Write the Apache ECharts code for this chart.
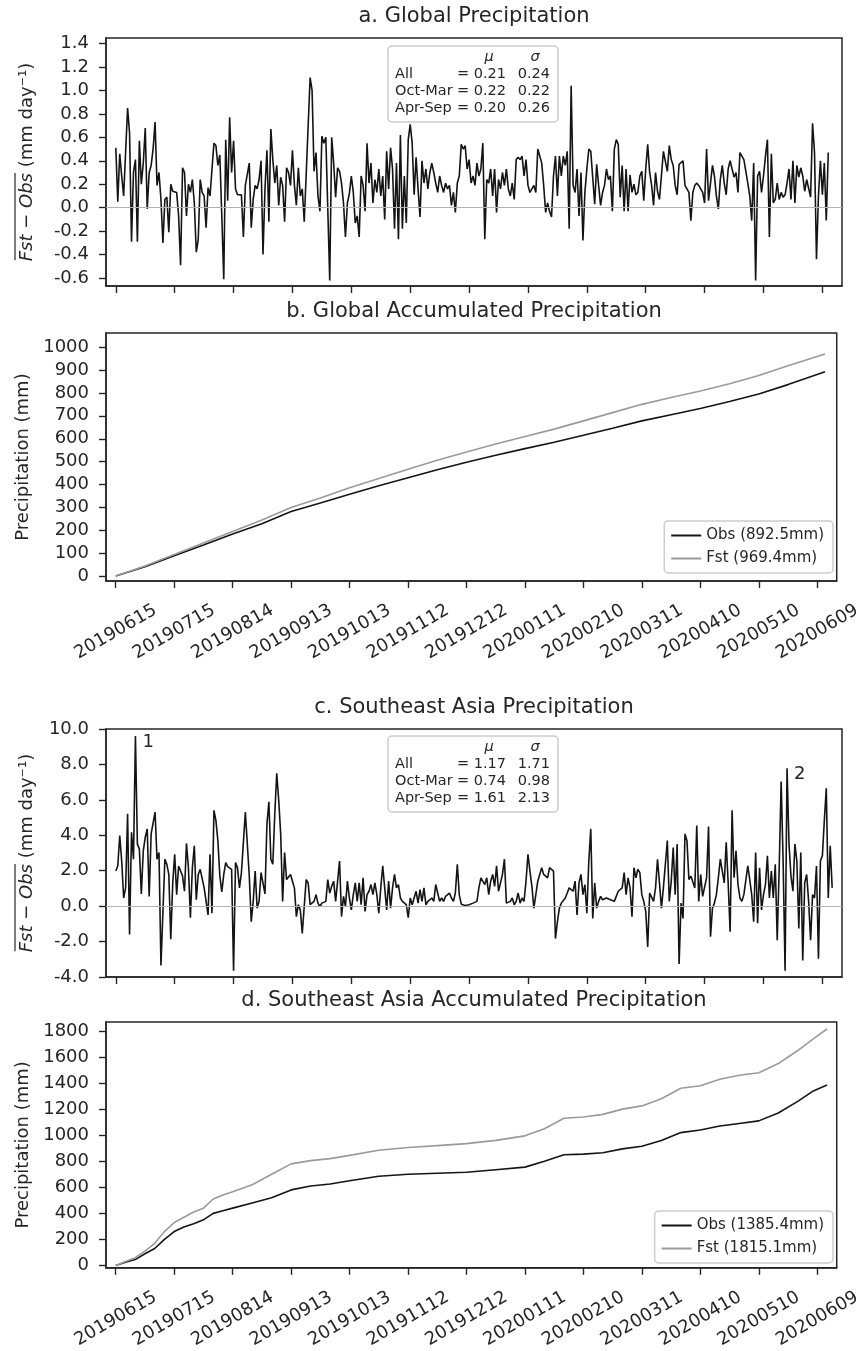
<!DOCTYPE html>
<html>
<head>
<meta charset="utf-8">
<script src="https://cdn.jsdelivr.net/npm/echarts@6.0.0/dist/echarts.min.js"></script>
<style>
  html, body { margin: 0; background: #fff; }
  #chart { width: 864px; height: 1351px; }
</style>
</head>
<body>
<div id="chart"></div>
<script>
// day offsets from 20190615 and their tick labels
const TICK_DAYS = [0, 30, 60, 90, 120, 150, 180, 210, 240, 270, 300, 330, 360];
const TICK_LABELS = ['20190615', '20190715', '20190814', '20190913', '20191013', '20191112',
  '20191212', '20200111', '20200210', '20200311', '20200410', '20200510', '20200609'];

// a. daily global mean Fst - Obs (mm/day)
const GLOBAL_DIFF = [
  0.51, 0.05, 0.46, 0.27, 0.10, 0.10, 0.85, 0.64, -0.29, 0.30,
  0.41, -0.29, 0.57, 0.20, 0.38, 0.68, -0.01, 0.30, 0.36, 0.50,
  0.73, 0.19, 0.30, 0.07, -0.30, 0.07, 0.09, -0.21, 0.20, 0.14,
  0.13, 0.13, -0.07, -0.49, 0.34, 0.30, -0.07, 0.20, 0.13, 0.24,
  0.04, -0.38, -0.27, 0.24, 0.13, 0.10, -0.17, 0.17, 0.10, 0.33,
  0.55, 0.53, 0.36, 0.45, -0.07, -0.61, 0.58, 0.06, 0.77, 0.30,
  0.57, 0.16, 0.11, 0.11, 0.11, -0.25, 0.19, 0.20, 0.38, -0.17,
  0.07, 0.19, 0.16, 0.24, 0.40, -0.40, 0.16, 0.49, -0.12, 0.67,
  0.41, 0.21, 0.36, 0.02, 0.26, 0.19, -0.12, 0.34, 0.30, 0.19,
  0.49, 0.19, 0.02, 0.34, 0.10, 0.16, -0.12, 0.28, 0.28, 1.11,
  1.00, 0.31, 0.47, 0.10, -0.03, 0.61, 0.55, 0.60, -0.01, -0.62,
  0.60, 0.38, 0.09, 0.34, 0.31, 0.21,
  0.04, -0.25, 0.04, 0.12, 0.27, 0.13, -0.13, -0.07, -0.25,
  0.27, 0.19, -0.03, 0.55, 0.21, 0.38, 0.04, 0.24, 0.13, 0.33,
  0.10, 0.27, -0.10, 0.48, 0.16, 0.51, 0.33, -0.18, 0.38, -0.27,
  0.62, -0.18, 0.27, -0.13, 0.58, 0.71, 0.55, 0.11, 0.43, 0.16,
  -0.08, 0.40, 0.21, 0.33, 0.16, 0.30, 0.38, 0.30, 0.21, 0.13,
  0.27, 0.19, 0.13, 0.21, 0.16, 0.19, 0.02, 0.13, -0.04, 0.21,
  0.27, 0.54, 0.50, 0.53, 0.33, 0.41, 0.21, 0.27, 0.19, 0.38,
  0.27, 0.33, 0.55, -0.27, 0.24, 0.21, 0.33, 0.10, 0.33, -0.04,
  0.24, 0.16, 0.30, 0.19, 0.33, 0.16, 0.10, 0.21, 0.07, 0.41,
  0.43, 0.41, 0.44, 0.27, 0.41, 0.19, 0.13, 0.16, 0.19, 0.13,
  0.50, 0.44, 0.38, 0.19, -0.04, 0.04, -0.03, -0.08, 0.27, 0.44,
  0.10, 0.44, 0.27, 0.44, 0.36, 0.48, -0.18, 1.04, 0.19, 0.13,
  0.33, -0.07, 0.30, -0.28, 0.13, 0.33, 0.50,
  0.48, 0.47, 0.03, 0.37, 0.19, 0.02, 0.13, 0.19, 0.33, 0.24,
  0.27, -0.03, 0.50, 0.58, 0.54, 0.09, 0.36, -0.03, 0.33, -0.03,
  0.28, 0.13, 0.20, 0.11, 0.13, 0.27, 0.31, 0.06, 0.33, 0.54,
  0.30, 0.19, 0.02, 0.30, 0.14, 0.07, 0.06, 0.48, 0.47, 0.31,
  0.53, 0.41, 0.36, 0.19, 0.11, 0.37, 0.38, 0.40, 0.19, 0.19,
  0.13, -0.11, 0.13, 0.19, 0.21, 0.19, 0.16, 0.13, 0.04, 0.50,
  0.06, 0.21, 0.36, 0.27, 0.10, -0.01, 0.24, 0.36, 0.21, 0.11,
  0.33, 0.40, 0.40, 0.26, 0.30, 0.13, 0.47, 0.44, 0.41, 0.40,
  0.21, 0.10, -0.11, 0.38, -0.62, 0.27, 0.31, 0.13, 0.27, 0.44,
  0.58, -0.25, 0.46, 0.04, 0.07, 0.21, 0.07, 0.13, 0.09, 0.11,
  0.21, 0.33, 0.07, 0.40, 0.04, 0.36, 0.26, 0.34, 0.27, 0.14,
  0.24, 0.24, 0.09, 0.72, 0.47, -0.44, 0.10, 0.40, 0.11, 0.38,
  -0.11, 0.47
];

// c. daily Southeast Asia mean Fst - Obs (mm/day)
const SEA_DIFF = [
  1.98, 2.27, 3.98, 2.55, 0.46, 1.03, 5.22, -1.60,
  4.17, 2.65, 9.60, 3.50, 3.22, 0.69, 3.12, 3.89, 4.36, 0.55,
  4.08, 4.08, 5.31, 2.65, 3.03, -3.35, -3.45, 2.65, 2.36, 1.79,
  -1.87, 1.31, 2.93, 0.65, 2.27, 2.17, 1.70, 0.84, 3.54, 2.17,
  -0.65, 2.17, 3.41, 0.36, 1.79, 2.08, 2.08, 1.03, 1.03, -0.50,
  2.93, -0.40, 5.41, 4.84, 3.70, 1.70, 0.80, 1.79, 2.46, 2.23,
  2.13, 2.08, -3.64, 2.46, 2.17, 1.03, 1.89, 1.98, 5.31, 5.22,
  1.70, -0.88, 0.27, 1.98, -0.11, 0.27, 1.89, 1.89, 0.69, 4.65,
  5.89, 2.65, 2.36, 5.22, 7.50, 5.98, 4.08, 0.27, 3.03, 1.50,
  1.47, 1.79, 1.41, 1.03, -0.59, 0.08, -0.21, -1.54, -1.58, 1.50,
  1.31, 0.08, 0.17, 0.27, 0.65, 0.17, -0.02, 0.17, 0.17, 0.27,
  1.50, 0.74, 1.12, 1.41, 0.27, 0.17, 2.55, -0.59, 0.55,
  -0.02, 1.41, 0.46, -0.21, 0.65, 1.31, 0.27, 1.31, 0.08, 1.60,
  -0.30, 0.65, 0.84, 1.22, 0.65, 1.31, 0.65, -0.40, 1.03, 2.27,
  1.03, -0.21, 1.41, -0.11, 1.03, 1.79, 1.03, 1.22, 0.46, 0.27,
  0.27, 0.08, -0.65, 0.46, 0.08, 0.46, 0.84, 0.17, 0.93, 0.27,
  1.03, 0.08, 0.27, 0.17, 0.46, 0.27, 1.22, 1.26, 0.27, 0.46,
  0.27, 0.55, 0.65, 0.74, 0.46, 0.27, 0.74, 2.36, 0.65, 0.11,
  0.02, 0.04, 0.06, 0.08, 0.13, 0.17, 0.17, 0.27, 1.03, 1.60,
  1.70, 1.22, 1.60, 0.65, 1.41, 1.79, 1.12, 2.27, 0.84, 1.31,
  1.79, 2.65, 0.17, 0.27, 0.27, 0.46, 0.08, 0.27, 0.74, 0.17,
  0.46, 0.27, 1.41, 2.93, 1.98, 1.12, -0.11, 0.65, 1.41, 1.50,
  2.17, 1.79, 1.89, 1.60, 2.17, 2.17, 1.98, -1.83, -0.88, -0.11,
  0.17, 0.27, 0.46, 0.74, 1.03, 1.12, 0.84, 1.41, -0.50, 1.31,
  1.79, 0.65, 1.22, -0.40, 2.55, 4.36, -0.69, 1.31, -0.11, 0.27,
  0.55, 0.36,
  0.36, 0.46, 0.55, 0.36, 0.27, 0.27, 0.17, 0.84, 0.74, 1.03,
  1.89, 0.65, 1.60, 1.03, -0.59, 2.17, 1.60, 2.08, 1.89, 0.65,
  0.27, -0.30, -2.30, 0.74, 0.65, 0.27, 1.03, 2.65, 1.31, -0.11,
  1.03, 1.12, 3.70, 0.27, 1.41, 3.31, 0.65, 3.50, -3.26, 0.17,
  -0.69, 4.08, 3.70, 1.50, 1.70, 1.60, 1.03, 4.55, 0.27, 1.79,
  0.55, 0.65, 1.60, 4.50, -1.73, -0.11, 0.17, 0.65, 1.60, 2.65,
  2.55, 1.31, 3.60, 1.31, -1.45, 5.41, 1.60, 3.12, 1.22, 0.46,
  0.27, 0.65, 0.65, 2.27, 1.50, 0.65, -0.88, 3.03, -0.97, 2.17,
  -0.21, 0.65, 1.22, 2.84, 0.46, 1.98, 0.46, 2.36, -1.92, 2.17,
  7.03, 2.55, -3.64, 7.79, 3.50, 1.70, 0.84, 3.50, 2.55, -1.26,
  3.03, -3.07, 1.31, 1.79, 0.27, -1.92, 0.65, 0.46, 2.27, -2.97,
  2.55, 2.84, 4.84, 6.65, 0.46, 3.41, 1.03
];
// numbered peaks in panel c: [day, label]
const SEA_PEAKS = [[10, '1'], [342, '2']];

// b. global accumulated precipitation (mm), sampled days
const GLOBAL_ACC_DAYS = [0, 15, 30, 45, 60, 75, 90, 105, 120, 135, 150, 165, 180, 195, 210, 225, 240, 255, 270, 285, 300, 315, 330, 345, 364];
const GLOBAL_OBS = [2, 42, 90, 137, 185, 230, 283, 320, 358, 395, 430, 465, 498, 528, 557, 585, 615, 646, 678, 705, 732, 762, 795, 836, 892.5];
const GLOBAL_FST = [2, 45, 95, 146, 196, 246, 300, 342, 386, 427, 467, 506, 542, 577, 610, 642, 678, 714, 750, 780, 808, 840, 876, 918, 969.4];

// d. Southeast Asia accumulated precipitation (mm), sampled days
const SEA_ACC_DAYS = [0, 5, 10, 15, 20, 25, 30, 35, 40, 45, 50, 55, 60, 70, 80, 90, 100, 110, 120, 135, 150, 165, 180, 195, 210, 220, 230, 240, 250, 260, 270, 280, 290, 300, 310, 320, 330, 340, 350, 358, 365];
const SEA_OBS = [0, 25, 45, 90, 130, 200, 260, 295, 320, 350, 400, 420, 440, 480, 520, 580, 610, 625, 650, 685, 700, 708, 715, 735, 755, 800, 850, 855, 865, 895, 915, 960, 1020, 1040, 1070, 1090, 1110, 1170, 1260, 1340, 1385.4];
const SEA_FST = [0, 30, 60, 110, 170, 260, 330, 370, 410, 440, 510, 540, 565, 620, 700, 780, 805, 820, 845, 885, 905, 920, 935, 960, 995, 1050, 1130, 1140, 1160, 1200, 1225, 1280, 1360, 1380, 1430, 1460, 1480, 1550, 1650, 1740, 1815.1];

const GLOBAL_STATS = [['All', '0.21', '0.24'], ['Oct-Mar', '0.22', '0.22'], ['Apr-Sep', '0.20', '0.26']];
const SEA_STATS = [['All', '1.17', '1.71'], ['Oct-Mar', '0.74', '0.98'], ['Apr-Sep', '1.61', '2.13']];

const DIFF_TICKS_A = [-0.6, -0.4, -0.2, 0, 0.2, 0.4, 0.6, 0.8, 1.0, 1.2, 1.4];
const ACC_TICKS_B = [0, 100, 200, 300, 400, 500, 600, 700, 800, 900, 1000];
const ACC_TICKS_D = [0, 200, 400, 600, 800, 1000, 1200, 1400, 1600, 1800];

const FONT = 'DejaVu Sans';
const INK = '#262626';
const OBS_COLOR = '#141414';
const FST_COLOR = '#9a9a9a';

const LEFT = 106, WIDTH = 736, HEIGHT = 248;
const TOPS = [38, 333, 729, 1022];
const TITLES = ['a. Global Precipitation', 'b. Global Accumulated Precipitation',
  'c. Southeast Asia Precipitation', 'd. Southeast Asia Accumulated Precipitation'];

const chart = echarts.init(document.getElementById('chart'));

function xAxis(gi, withLabels) {
  return {
    type: 'value', gridIndex: gi, min: -5, max: 370,
    axisLine: { show: true, onZero: false, lineStyle: { color: INK, width: 1.5 } },
    axisTick: { show: true, length: 7, customValues: TICK_DAYS, lineStyle: { color: INK, width: 1.4 } },
    axisLabel: {
      show: withLabels, customValues: TICK_DAYS, rotate: 30,
      align: 'center', verticalAlign: 'middle', margin: 51,
      fontFamily: FONT, fontSize: 18, color: INK,
      formatter: v => TICK_LABELS[TICK_DAYS.indexOf(v)] || ''
    },
    splitLine: { show: false }
  };
}

function yAxis(gi, min, max, ticks, fmt, name) {
  const ax = {
    type: 'value', gridIndex: gi, min, max,
    axisLine: { show: true, onZero: false, lineStyle: { color: INK, width: 1.5 } },
    axisTick: { show: true, length: 7, lineStyle: { color: INK, width: 1.4 } },
    axisLabel: { fontFamily: FONT, fontSize: 18, color: INK, margin: 17, formatter: fmt },
    splitLine: { show: false }
  };
  if (ticks) {
    ax.axisTick.customValues = ticks;
    ax.axisLabel.customValues = ticks;
  }
  if (name) {
    ax.name = name;
    ax.nameLocation = 'middle';
    ax.nameGap = 74;
    ax.nameTextStyle = { fontFamily: FONT, fontSize: 18, color: INK };
  }
  return ax;
}

function zeroLine() {
  return {
    silent: true, symbol: ['none', 'none'], label: { show: false },
    lineStyle: { color: '#b3b3b3', width: 1.2, type: 'solid' },
    data: [{ yAxis: 0 }]
  };
}

// rotated "overline(Fst - Obs) (mm day^-1)" label
function diffLabel(cx, cy) {
  const ctx = document.createElement('canvas').getContext('2d');
  ctx.font = 'italic 18px "' + FONT + '"';
  const wIt = ctx.measureText('Fst − Obs').width;
  ctx.font = '18px "' + FONT + '"';
  const wRest = ctx.measureText(' (mm day⁻¹)').width;
  const x0 = -(wIt + wRest) / 2;
  return {
    type: 'group', x: cx, y: cy, rotation: Math.PI / 2, z: 100,
    children: [
      { type: 'text', x: x0, y: 0, style: { text: 'Fst − Obs', font: 'italic 18px "' + FONT + '"', fill: INK, verticalAlign: 'middle', textVerticalAlign: 'middle' } },
      { type: 'text', x: x0 + wIt, y: 0, style: { text: ' (mm day⁻¹)', font: '18px "' + FONT + '"', fill: INK, verticalAlign: 'middle', textVerticalAlign: 'middle' } },
      { type: 'line', shape: { x1: x0 + 1, y1: -12, x2: x0 + wIt, y2: -12 }, style: { stroke: INK, lineWidth: 1.2 } }
    ]
  };
}

function statsBox(bx, by, rows) {
  const f = '14.5px "' + FONT + '"';
  const fi = 'italic 14.5px "' + FONT + '"';
  const mid = { verticalAlign: 'middle', textVerticalAlign: 'middle' };
  const children = [
    { type: 'rect', shape: { x: 0, y: 0, width: 170, height: 76, r: 4 }, style: { fill: 'rgba(255,255,255,0.9)', stroke: '#cccccc', lineWidth: 1.5 } },
    { type: 'text', x: 101, y: 11, style: Object.assign({ text: 'μ', font: fi, fill: INK, align: 'center', textAlign: 'center' }, mid) },
    { type: 'text', x: 147, y: 11, style: Object.assign({ text: 'σ', font: fi, fill: INK, align: 'center', textAlign: 'center' }, mid) }
  ];
  rows.forEach((r, i) => {
    const ty = 28 + i * 17;
    children.push({ type: 'text', x: 7, y: ty, style: Object.assign({ text: r[0], font: f, fill: INK }, mid) });
    children.push({ type: 'text', x: 118, y: ty, style: Object.assign({ text: '= ' + r[1], font: f, fill: INK, align: 'right', textAlign: 'right' }, mid) });
    children.push({ type: 'text', x: 162, y: ty, style: Object.assign({ text: r[2], font: f, fill: INK, align: 'right', textAlign: 'right' }, mid) });
  });
  return { type: 'group', x: bx, y: by, z: 100, children };
}

function legend(names, bottom) {
  return {
    data: names, orient: 'vertical', right: 31, bottom,
    icon: 'rect', itemWidth: 30, itemHeight: 2, itemGap: 8,
    textStyle: { fontFamily: FONT, fontSize: 15, color: INK },
    backgroundColor: 'rgba(255,255,255,0.9)', borderColor: '#cccccc', borderWidth: 1.5, borderRadius: 4,
    padding: [7, 9, 7, 7]
  };
}

const oneDec = v => (Math.round(v * 10) / 10).toFixed(1);

chart.setOption({
  animation: false,
  backgroundColor: '#fff',
  title: TITLES.map((t, i) => ({
    text: t, left: LEFT + WIDTH / 2, top: TOPS[i] - 32, textAlign: 'center', padding: 0,
    textStyle: { fontFamily: FONT, fontSize: 21, fontWeight: 'normal', color: INK }
  })),
  grid: TOPS.map(t => ({
    left: LEFT, top: t, width: WIDTH, height: HEIGHT,
    show: true, borderColor: INK, borderWidth: 1.5, backgroundColor: 'transparent'
  })),
  xAxis: [xAxis(0, false), xAxis(1, true), xAxis(2, false), xAxis(3, true)],
  yAxis: [
    yAxis(0, -0.668, 1.447, DIFF_TICKS_A, oneDec),
    yAxis(1, -20, 1061, ACC_TICKS_B, v => String(v), 'Precipitation (mm)'),
    Object.assign(yAxis(2, -4, 10, null, oneDec), { interval: 2 }),
    yAxis(3, -18, 1869, ACC_TICKS_D, v => String(v), 'Precipitation (mm)')
  ],
  legend: [
    legend(['Obs (892.5mm)', 'Fst (969.4mm)'], 1351 - 573),
    legend(['Obs (1385.4mm)', 'Fst (1815.1mm)'], 1351 - 1263)
  ],
  graphic: [
    diffLabel(27, TOPS[0] + HEIGHT / 2),
    diffLabel(27, TOPS[2] + HEIGHT / 2),
    statsBox(388, 46, GLOBAL_STATS),
    statsBox(388, 736, SEA_STATS)
  ],
  series: [
    {
      name: 'Global Fst - Obs', type: 'line', xAxisIndex: 0, yAxisIndex: 0,
      data: GLOBAL_DIFF.map((v, i) => [i, v]), showSymbol: false,
      lineStyle: { color: OBS_COLOR, width: 1.6 }, itemStyle: { color: OBS_COLOR },
      markLine: zeroLine()
    },
    {
      name: 'Obs (892.5mm)', type: 'line', xAxisIndex: 1, yAxisIndex: 1,
      data: GLOBAL_ACC_DAYS.map((d, i) => [d, GLOBAL_OBS[i]]), showSymbol: false,
      lineStyle: { color: OBS_COLOR, width: 1.6 }, itemStyle: { color: OBS_COLOR }
    },
    {
      name: 'Fst (969.4mm)', type: 'line', xAxisIndex: 1, yAxisIndex: 1,
      data: GLOBAL_ACC_DAYS.map((d, i) => [d, GLOBAL_FST[i]]), showSymbol: false,
      lineStyle: { color: FST_COLOR, width: 1.6 }, itemStyle: { color: FST_COLOR }
    },
    {
      name: 'SEA Fst - Obs', type: 'line', xAxisIndex: 2, yAxisIndex: 2,
      data: SEA_DIFF.map((v, i) => [i, v]), showSymbol: false,
      lineStyle: { color: OBS_COLOR, width: 1.6 }, itemStyle: { color: OBS_COLOR },
      markLine: zeroLine(),
      markPoint: {
        symbol: 'circle', symbolSize: 0, silent: true,
        data: SEA_PEAKS.map(p => ({
          coord: [p[0], SEA_DIFF[p[0]]],
          label: { show: true, formatter: p[1], position: 'right', distance: 7, offset: [0, 6], fontFamily: FONT, fontSize: 18, color: INK }
        }))
      }
    },
    {
      name: 'Obs (1385.4mm)', type: 'line', xAxisIndex: 3, yAxisIndex: 3,
      data: SEA_ACC_DAYS.map((d, i) => [d, SEA_OBS[i]]), showSymbol: false,
      lineStyle: { color: OBS_COLOR, width: 1.6 }, itemStyle: { color: OBS_COLOR }
    },
    {
      name: 'Fst (1815.1mm)', type: 'line', xAxisIndex: 3, yAxisIndex: 3,
      data: SEA_ACC_DAYS.map((d, i) => [d, SEA_FST[i]]), showSymbol: false,
      lineStyle: { color: FST_COLOR, width: 1.6 }, itemStyle: { color: FST_COLOR }
    }
  ]
});
</script>
</body>
</html>
